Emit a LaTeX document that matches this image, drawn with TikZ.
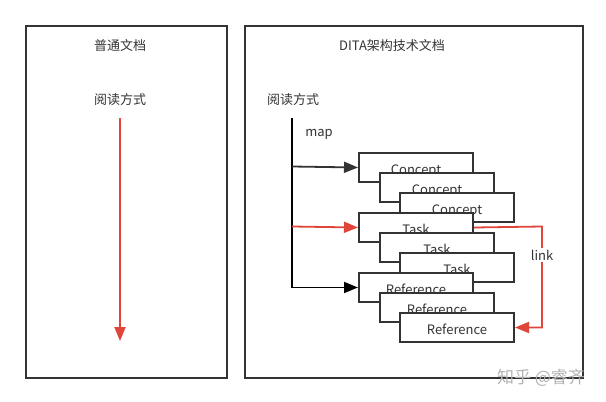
\documentclass[tikz,border=0pt]{standalone}
\usepackage{fontspec}
\setmainfont{Noto Sans CJK SC}
\usetikzlibrary{arrows.meta}
\definecolor{dk}{HTML}{333333}
\definecolor{rd}{HTML}{E0453A}
\begin{document}
\begin{tikzpicture}[x=1pt,y=-1pt,
  frame/.style={draw=dk,line width=2pt},
  txt/.style={font=\fontsize{13}{15}\selectfont,text=dk,inner sep=0pt},
  doc/.style={draw=dk,fill=white,line width=2pt,minimum width=114pt,minimum height=29pt,inner sep=0pt,
              font=\fontsize{13}{15}\selectfont,text=dk,anchor=north west,text height=13pt,text depth=0pt},
  arr/.style={line width=1.8pt,-{Triangle[length=14pt,width=11pt]}},
]
\useasboundingbox (0,0) rectangle (606,402);
% frames
\node[frame,minimum width=201pt,minimum height=352pt,anchor=north west,inner sep=0pt] (lbox) at (25,25) {};
\node[frame,minimum width=338pt,minimum height=352pt,anchor=north west,inner sep=0pt] (rbox) at (244,25) {};
% left panel
\node[txt] (ltitle) at (120,46) {普通文档};
\node[txt] (lread) at (120,100) {阅读方式};
\coordinate (ltop) at (120,118);
\coordinate (lbot) at (120,341);
\draw[arr,rd] (ltop) -- (lbot);
% right panel
\node[txt] (rtitle) at (392,46) {DITA架构技术文档};
\node[txt] (rread) at (293,100) {阅读方式};
\node[txt] (map) at (319,134) {map};
% documents
\node[doc] (c1) at (358,152) {Concept};
\node[doc] (c2) at (379,172) {Concept};
\node[doc] (c3) at (399,192) {Concept};
\node[doc] (t1) at (358,212) {Task};
\node[doc] (t2) at (379,232) {Task};
\node[doc] (t3) at (399,252) {Task};
\node[doc] (r1) at (358,272) {Reference};
\node[doc] (r2) at (379,292) {Reference};
\node[doc] (r3) at (399,312) {Reference};
% map line
\coordinate (mtop) at (292,118);
\coordinate (mc) at (292,166.5);
\coordinate (mt) at (292,226.5);
\draw[arr,black] (mtop) |- (r1.west);
\draw[arr,dk] (mc) -- (c1.west);
\draw[arr,rd] (mt) -- (t1.west);
% link
\coordinate (lk) at (542,226.5);
\draw[arr,rd] (t1.east) -- (lk) |- (r3.east);
\node[txt,fill=white,inner sep=2pt] (link) at (542,255) {link};
% watermark
\node[font=\fontsize{17}{19}\selectfont,text=black!30,inner sep=0pt] (wm) at (541,378) {知乎 @睿齐};
\end{tikzpicture}
\end{document}
